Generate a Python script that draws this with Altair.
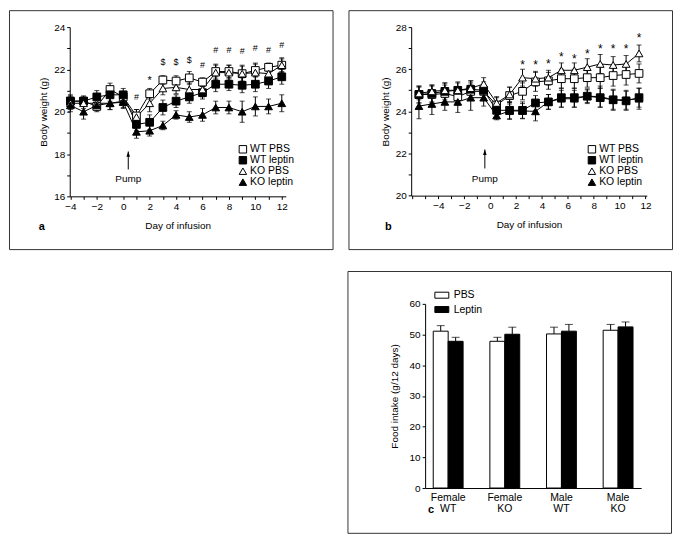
import altair as alt
import pandas as pd

FONT = "Liberation Sans"
INK = "black"
BOX = "#333333"

SERIES = ["WT PBS", "WT leptin", "KO PBS", "KO leptin"]
SHAPES = ["square", "square", "triangle-up", "triangle-up"]
FILLS = ["white", "black", "white", "black"]
STROKES = ["black", "black", "black", "black"]

# ---------------- panel a ----------------
days_a = [-4, -3, -2, -1, 0, 1, 2, 3, 4, 5, 6, 7, 8, 9, 10, 11, 12]
a_wt_pbs = [20.5, 20.5, 20.25, 21.05, 20.7, 19.8, 20.85, 21.5, 21.45, 21.6, 21.4, 21.9, 21.9, 21.8, 21.95, 22.1, 22.2]
a_wt_pbs_err = [0.25, 0.2, 0.2, 0.3, 0.25, 0.3, 0.25, 0.2, 0.25, 0.3, 0.2, 0.35, 0.3, 0.35, 0.3, 0.2, 0.3]
a_wt_lep = [20.5, 20.5, 20.7, 20.8, 20.8, 19.4, 19.5, 20.2, 20.5, 20.7, 20.9, 21.3, 21.3, 21.25, 21.3, 21.45, 21.65]
a_wt_lep_err = [0.3, 0.25, 0.3, 0.3, 0.3, 0.3, 0.35, 0.35, 0.3, 0.3, 0.3, 0.35, 0.3, 0.35, 0.35, 0.35, 0.35]
a_ko_pbs = [20.4, 20.4, 20.4, 20.4, 20.5, 19.75, 20.4, 21.1, 21.15, 21.05, 21.05, 21.85, 21.85, 21.8, 21.85, 21.8, 22.2]
a_ko_pbs_err = [0.3, 0.25, 0.25, 0.3, 0.3, 0.35, 0.4, 0.3, 0.3, 0.3, 0.35, 0.35, 0.35, 0.4, 0.45, 0.35, 0.35]
a_ko_lep = [20.3, 20.0, 20.3, 20.4, 20.45, 19.05, 19.1, 19.35, 19.85, 19.75, 19.85, 20.2, 20.2, 20.0, 20.25, 20.25, 20.4]
a_ko_lep_err = [0.3, 0.35, 0.3, 0.3, 0.3, 0.3, 0.25, 0.2, 0.2, 0.25, 0.3, 0.3, 0.3, 0.5, 0.45, 0.35, 0.4]

a_mark_days = [1, 3, 4, 5, 6, 7, 8, 9, 10, 11, 12]
a_mark_text = ["#", "$", "$", "$", "#", "#", "#", "#", "#", "#", "#"]
a_mark_y = [20.7, 22.35, 22.35, 22.45, 22.2, 22.9, 22.9, 22.85, 23.0, 22.9, 23.15]
a_star_days = [2]
a_star_y = [21.6]

a_pump_day = [0.38]
a_pump_tail = [17.27]
a_pump_tip = [18.12]
a_pump_text_y = [16.8]

# ---------------- panel b ----------------
days_b = [-5.5, -4.5, -3.5, -2.5, -1.5, -0.5, 0.5, 1.5, 2.5, 3.5, 4.5, 5.5, 6.5, 7.5, 8.5, 9.5, 10.5, 11.5]
b_wt_pbs = [24.8, 24.8, 24.85, 24.7, 24.95, 24.95, 24.3, 24.75, 24.95, 25.4, 25.45, 25.55, 25.55, 25.6, 25.6, 25.7, 25.75, 25.8]
b_wt_pbs_err = [0.4, 0.4, 0.4, 0.4, 0.4, 0.35, 0.35, 0.4, 0.4, 0.45, 0.4, 0.45, 0.45, 0.45, 0.5, 0.5, 0.5, 0.45]
b_wt_lep = [24.8, 24.85, 24.95, 25.0, 25.05, 25.0, 24.05, 24.05, 24.05, 24.4, 24.45, 24.65, 24.65, 24.72, 24.65, 24.55, 24.5, 24.65]
b_wt_lep_err = [0.4, 0.4, 0.4, 0.4, 0.4, 0.4, 0.35, 0.4, 0.4, 0.35, 0.35, 0.45, 0.45, 0.35, 0.45, 0.5, 0.45, 0.45]
b_ko_pbs = [24.85, 24.95, 25.0, 25.0, 25.1, 25.3, 24.4, 24.8, 25.6, 25.55, 25.6, 25.95, 25.95, 26.1, 26.25, 26.2, 26.25, 26.75]
b_ko_pbs_err = [0.3, 0.3, 0.35, 0.35, 0.35, 0.3, 0.3, 0.35, 0.4, 0.35, 0.35, 0.35, 0.35, 0.4, 0.45, 0.4, 0.4, 0.4]
b_ko_lep = [24.25, 24.35, 24.45, 24.45, 24.65, 24.65, 23.8, 24.02, 24.02, 24.0, 24.45, 24.6, 24.6, 24.72, 24.7, 24.55, 24.55, 24.6]
b_ko_lep_err = [0.6, 0.5, 0.4, 0.5, 0.6, 0.4, 0.2, 0.4, 0.35, 0.45, 0.35, 0.4, 0.4, 0.3, 0.5, 0.45, 0.45, 0.5]

b_star_days = [2.5, 3.5, 4.5, 5.5, 6.5, 7.5, 8.5, 9.5, 10.5, 11.5]
b_star_y = [26.35, 26.35, 26.4, 26.72, 26.65, 26.88, 27.12, 27.12, 27.12, 27.62]

b_pump_day = [-0.41]
b_pump_tail = [21.29]
b_pump_tip = [22.19]
b_pump_text_y = [20.77]

# ---------------- panel c ----------------
c_groups = ["Female WT", "Female KO", "Male WT", "Male KO"]
c_treat = ["PBS", "Leptin"]
c_pbs = [51.1, 47.8, 50.2, 51.4]
c_pbs_err = [1.8, 1.3, 2.2, 1.9]
c_lep = [47.8, 50.1, 51.1, 52.5]
c_lep_err = [1.3, 2.3, 2.2, 1.6]


def long_table(days, vals, errs):
    rows = []
    for name, v, e in zip(SERIES, vals, errs):
        for d, vv, ee in zip(days, v, e):
            rows.append({"day": d, "series": name, "val": vv, "lo": vv - ee, "hi": vv + ee})
    return pd.DataFrame(rows)


EVEN_X = "abs(datum.value % 2) < 0.001 && datum.value > -5 ? datum.label : ''"
EVEN_Y = "abs(datum.value % 2) < 0.001 ? datum.label : ''"
ARROW = "M0,0L-0.6,1.8L0.6,1.8Z"


def timecourse(df, marks, stars, pump, letter, *, xdom, xrng, ydom, yrng, xticks, yticks,
               xoff, yoff, leg_x, leg_y, letter_xy, W, H, mark_size, star_size):
    xs = alt.Scale(domain=xdom, range=xrng, nice=False, zero=False)
    ys = alt.Scale(domain=ydom, range=yrng, nice=False, zero=False)
    xax = alt.Axis(values=xticks, labelExpr=EVEN_X, offset=xoff, titlePadding=9, tickSize=3,
                   labelPadding=2, grid=False, labelFlush=False, labelOverlap=False)
    yax = alt.Axis(values=yticks, labelExpr=EVEN_Y, offset=yoff, titlePadding=5, tickSize=3,
                   labelPadding=2, grid=False, labelOverlap=False)

    def X(f):
        return alt.X(f, type="quantitative", scale=xs, axis=xax, title="Day of infusion")

    def Y(f):
        return alt.Y(f, type="quantitative", scale=ys, axis=yax, title="Body weight (g)")

    base = alt.Chart(df)
    err = base.mark_rule(color=INK, strokeWidth=1).encode(x=X("day"), y=Y("lo"), y2="hi", detail="series:N")
    cap_hi = base.mark_tick(orient="horizontal", color=INK, size=5, thickness=1).encode(x=X("day"), y=Y("hi"))
    cap_lo = base.mark_tick(orient="horizontal", color=INK, size=5, thickness=1).encode(x=X("day"), y=Y("lo"))
    line = base.mark_line(color=INK, strokeWidth=1).encode(x=X("day"), y=Y("val"), detail="series:N")
    leg = alt.Legend(title=None, orient="none", legendX=leg_x, legendY=leg_y, symbolSize=56,
                     symbolStrokeWidth=1, labelFontSize=10.5, labelOffset=2,
                     rowPadding=-2.5, padding=0)
    pts = base.mark_point(filled=True, opacity=1, size=60, strokeWidth=1).encode(
        x=X("day"), y=Y("val"),
        shape=alt.Shape("series:N", scale=alt.Scale(domain=SERIES, range=SHAPES), legend=leg),
        fill=alt.Fill("series:N", scale=alt.Scale(domain=SERIES, range=FILLS), legend=leg),
        stroke=alt.Stroke("series:N", scale=alt.Scale(domain=SERIES, range=STROKES), legend=leg),
    )
    layers = [err, cap_hi, cap_lo, line, pts]
    if marks is not None:
        layers.append(alt.Chart(marks).mark_text(font=FONT, fontSize=mark_size, color=INK, baseline="middle")
                      .encode(x=X("day"), y=Y("val"), text="label:N"))
    layers.append(alt.Chart(stars).mark_text(font=FONT, fontSize=star_size, color=INK, baseline="middle", dy=3)
                  .encode(x=X("day"), y=Y("val"), text="label:N"))
    pc = alt.Chart(pump)
    layers.append(pc.mark_rule(color=INK, strokeWidth=1).encode(x=X("day"), y=Y("tail"), y2="tip"))
    layers.append(pc.mark_point(shape=ARROW, filled=True, fill=INK, size=36, opacity=1, strokeWidth=0)
                  .encode(x=X("day"), y=Y("tip")))
    layers.append(pc.mark_text(font=FONT, fontSize=10, color=INK, baseline="middle")
                  .encode(x=X("day"), y=Y("text_y"), text="label:N"))
    layers.append(alt.Chart(pd.DataFrame({"label": [letter]})).mark_text(
        font=FONT, fontSize=11, fontWeight="bold", color=INK, baseline="middle")
        .encode(x=alt.value(letter_xy[0]), y=alt.value(letter_xy[1]), text="label:N"))
    return alt.layer(*layers).properties(width=W, height=H)


df_a = long_table(days_a, [a_wt_pbs, a_wt_lep, a_ko_pbs, a_ko_lep],
                  [a_wt_pbs_err, a_wt_lep_err, a_ko_pbs_err, a_ko_lep_err])
marks_a = pd.DataFrame({"day": a_mark_days, "val": a_mark_y, "label": a_mark_text})
stars_a = pd.DataFrame({"day": a_star_days, "val": a_star_y, "label": ["*"] * len(a_star_days)})
pump_a = pd.DataFrame({"day": a_pump_day, "tail": a_pump_tail, "tip": a_pump_tip,
                       "text_y": a_pump_text_y, "label": ["Pump"]})

df_b = long_table(days_b, [b_wt_pbs, b_wt_lep, b_ko_pbs, b_ko_lep],
                  [b_wt_pbs_err, b_wt_lep_err, b_ko_pbs_err, b_ko_lep_err])
stars_b = pd.DataFrame({"day": b_star_days, "val": b_star_y, "label": ["*"] * len(b_star_days)})
pump_b = pd.DataFrame({"day": b_pump_day, "tail": b_pump_tail, "tip": b_pump_tip,
                       "text_y": b_pump_text_y, "label": ["Pump"]})

panel_a = timecourse(df_a, marks_a, stars_a, pump_a, "a",
                     xdom=[-4.05, 12.3], xrng=[61, 278], ydom=[16, 24], yrng=[187, 17],
                     xticks=list(range(-4, 13)), yticks=list(range(16, 25)),
                     xoff=-53, yoff=-61, leg_x=229.7, leg_y=134.5, letter_xy=(33, 218),
                     W=325, H=240, mark_size=9, star_size=11)

panel_b = timecourse(df_b, None, stars_b, pump_b, "b",
                     xdom=[-6.1, 12.1], xrng=[63, 299.7], ydom=[20, 28], yrng=[186.3, 17],
                     xticks=list(range(-6, 13)), yticks=list(range(20, 29)),
                     xoff=-53.7, yoff=-63, leg_x=239.3, leg_y=134.5, letter_xy=(40, 218),
                     W=325, H=240, mark_size=9, star_size=12)

# ---------------- panel c chart ----------------
rows = []
for g, pv, pe, lv, le in zip(c_groups, c_pbs, c_pbs_err, c_lep, c_lep_err):
    rows.append({"group": g, "treatment": "PBS", "val": pv, "hi": pv + pe})
    rows.append({"group": g, "treatment": "Leptin", "val": lv, "hi": lv + le})
df_c = pd.DataFrame(rows)

xs_c = alt.Scale(domain=c_groups, range=[78, 295], paddingInner=0.473, paddingOuter=0.1435)
xax_c = alt.Axis(offset=-45, ticks=False, labelExpr="split(datum.label, ' ')", labelPadding=5,
                 labelLineHeight=11, labelAngle=0, labelFontSize=10.5, grid=False)
ys_c = alt.Scale(domain=[0, 60], range=[218, 33], nice=False, zero=False)
yax_c = alt.Axis(values=[0, 10, 20, 30, 40, 50, 60], offset=-78, titlePadding=10, tickSize=3,
                 labelPadding=2, grid=False)
XC = alt.X("group:N", sort=c_groups, scale=xs_c, axis=xax_c, title=None)
XO = alt.XOffset("treatment:N", sort=c_treat, scale=alt.Scale(domain=c_treat, paddingInner=0, paddingOuter=0))


def YC(f, **kw):
    return alt.Y(f, type="quantitative", scale=ys_c, axis=yax_c, title="Food intake (g/12 days)", **kw)


leg_c = alt.Legend(title=None, orient="none", legendX=87.3, legendY=16.8, symbolType="M-1,-0.43H1V0.43H-1Z",
                   symbolSize=196, symbolStrokeColor=INK, symbolStrokeWidth=1, labelFontSize=10.5,
                   labelOffset=4.4, rowPadding=1.4, padding=0)
base_c = alt.Chart(df_c)
bars = base_c.mark_bar(stroke=INK, strokeWidth=1).encode(
    x=XC, xOffset=XO, y=YC("val", stack=False),
    fill=alt.Fill("treatment:N", scale=alt.Scale(domain=c_treat, range=["white", "black"]), legend=leg_c),
)
err_c = base_c.mark_rule(color=INK, strokeWidth=1).encode(x=XC, xOffset=XO, y=YC("val"), y2="hi")
cap_c = base_c.mark_tick(orient="horizontal", color=INK, size=8, thickness=1).encode(x=XC, xOffset=XO, y=YC("hi"))
letter_c = alt.Chart(pd.DataFrame({"label": ["c"]})).mark_text(
    font=FONT, fontSize=11, fontWeight="bold", color=INK, baseline="middle").encode(
    x=alt.value(84), y=alt.value(240), text="label:N")
panel_c = alt.layer(err_c, cap_c, bars, letter_c).properties(width=325, height=263)

blank = alt.Chart(pd.DataFrame({"v": [0]})).mark_point(opacity=0).encode(
    x=alt.value(20), y=alt.value(20)).properties(width=325, height=263, view=alt.ViewBackground(strokeOpacity=0))


def indep(c):
    return c.resolve_scale(shape="independent", fill="independent", stroke="independent").resolve_legend(
        shape="independent", fill="independent", stroke="independent")


chart = indep(alt.vconcat(
    indep(alt.hconcat(panel_a, panel_b, spacing=14)),
    indep(alt.hconcat(blank, panel_c, spacing=14)),
    spacing=20,
)).properties(padding=0).configure_view(stroke=BOX, strokeWidth=1).configure_axis(
    labelFont=FONT, titleFont=FONT, labelFontSize=10, titleFontSize=10, titleFontWeight="normal",
    labelColor=INK, titleColor=INK, domainColor=INK, tickColor=INK, domainWidth=1, tickWidth=1,
).configure_legend(labelFont=FONT, labelColor=INK).configure_text(font=FONT)

chart.save("out.html", embed_options={"renderer": "svg", "actions": False})
